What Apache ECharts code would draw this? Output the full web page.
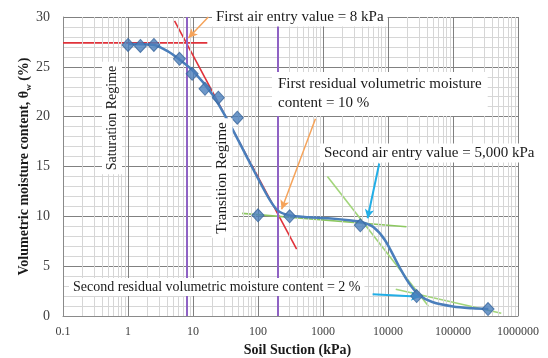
<!DOCTYPE html>
<html><head><meta charset="utf-8">
<script src="https://cdn.jsdelivr.net/npm/echarts@6/dist/echarts.min.js"></script>
<style>html,body{margin:0;padding:0;background:#fff}#c{width:548px;height:358px}</style>
</head><body><div id="c"></div>
<script>
// Measured data points
const ptX = [1, 1.55, 2.5, 6.2, 9.7, 15.3, 24.5, 48, 100, 307, 3750, 27600, 346000];
const ptY = [27.2, 27.1, 27.2, 25.8, 24.3, 22.8, 21.9, 19.9, 10.1, 10.0, 9.1, 2.0, 0.7];
// Fitted curve
const curveX = [1, 2.5, 4, 6, 10, 20, 35, 60, 100, 150, 200, 300, 600, 1200, 2500, 4000, 6000, 9000, 15000, 21000, 30000, 48000, 100000, 200000, 350000];
const curveY = [27.3, 27.2, 26.6, 25.8, 24.6, 22.2, 19.5, 16.6, 13.8, 11.7, 10.6, 10.1, 9.9, 9.8, 9.6, 9.4, 8.9, 7.6, 4.9, 3.3, 2.1, 1.4, 0.95, 0.77, 0.7];
// Tangent lines
const redHX = [0.1, 16.6], redHY = [27.4, 27.4];
const redTX = [5.2, 393], redTY = [29.6, 6.7];
const grnFlatX = [57, 19200], grnFlatY = [10.3, 8.96];
const grnSteepX = [1170, 41700], grnSteepY = [14.0, 1.0];
const grnLowX = [13150, 553000], grnLowY = [2.68, 0.27];
// Vertical reference lines
const purpleX = [8, 200];
// Arrows [x1,y1,x2,y2]
const orangeArrows = [[17.2, 30.0, 8.5, 27.9], [766, 19.8, 231, 10.7]];
const blueArrows = [[7330, 15.3, 4850, 9.8], [5800, 2.18, 31100, 1.94]];
// Axis ticks
const xTickLabels = ['0.1', '1', '10', '100', '1000', '10000', '100000', '1000000'];
const yTicks = [0, 5, 10, 15, 20, 25, 30];
const decades = [0.1, 1, 10, 100, 1000, 10000, 100000];

const serif = 'Liberation Serif';
const minorX = [];
decades.forEach(d => { for (let k = 2; k <= 9; k++) minorX.push(+(k * d).toPrecision(3)); });

const zip = (a, b) => a.map((v, i) => [v, b[i]]);
const chart = echarts.init(document.getElementById('c'));

const lineS = (xs, ys, color, w, z) => ({
  type: 'line', data: zip(xs, ys), symbol: 'none', silent: true, z: z,
  lineStyle: { color: color, width: w }, animation: false
});
const txt = (opts, text, size, extra) => Object.assign({ type: 'text', z: 50, zlevel: 0,
  style: Object.assign({ text: text, font: size + 'px ' + serif, fill: '#1a1a1a', backgroundColor: '#ffffff',
    padding: [2, 4], align: 'left', verticalAlign: 'middle' }, extra || {}) }, opts);

chart.setOption({
  animation: false,
  grid: { left: 63, right: 30, top: 17, bottom: 42, outerBoundsMode: 'none', containLabel: false },
  xAxis: {
    type: 'log', logBase: 10, min: 0.1, max: 1000000,
    name: 'Soil Suction (kPa)', nameLocation: 'middle', nameGap: 27,
    nameTextStyle: { fontFamily: serif, fontWeight: 'bold', fontSize: 14, color: '#1a1a1a', padding: [0, 0, 0, 14] },
    axisLine: { show: true, lineStyle: { color: '#8a8a8a' } },
    axisTick: { show: false },
    axisLabel: { fontFamily: serif, fontSize: 12, color: '#404040', margin: 10,
      formatter: (v, i) => xTickLabels[i] },
    splitLine: { show: true, lineStyle: { color: '#808080', width: 1 } }
  },
  yAxis: {
    type: 'value', min: yTicks[0], max: yTicks[yTicks.length - 1], interval: 5,
    name: '{a|Volumetric moisture content, θ}{s|w}{a| (%)}', nameLocation: 'middle', nameGap: 30,
    nameMoveOverlap: false,
    nameTextStyle: { rich: {
      a: { fontFamily: serif, fontWeight: 'bold', fontSize: 14, color: '#1a1a1a' },
      s: { fontFamily: serif, fontWeight: 'bold', fontSize: 9, color: '#1a1a1a', verticalAlign: 'bottom', padding: [8, 0, 0, 0] }
    } },
    axisLine: { show: true, lineStyle: { color: '#8a8a8a' } },
    axisTick: { show: false },
    axisLabel: { fontFamily: serif, fontSize: 14, color: '#404040', margin: 13 },
    splitLine: { show: true, lineStyle: { color: '#808080' } },
    minorTick: { show: false, splitNumber: 5 },
    minorSplitLine: { show: true, lineStyle: { color: '#d6d6d6' } }
  },
  graphic: [
    txt({ x: 212, y: 17 }, 'First air entry value = 8 kPa', 15),
    txt({ x: 272, y: 94 }, 'First residual volumetric moisture\ncontent = 10 %', 15, { padding: [3, 6], lineHeight: 19 }),
    txt({ x: 320, y: 153 }, 'Second air entry value = 5,000 kPa', 15),
    txt({ x: 69, y: 287 }, 'Second residual volumetric moisture content = 2 %', 14),
    txt({ x: 112, y: 118, rotation: Math.PI / 2 }, 'Saturation Regime', 14, { padding: [3, 4], align: 'center' }),
    txt({ x: 222, y: 178, rotation: Math.PI / 2 }, 'Transition Regime', 15, { padding: [3, 4], align: 'center' })
  ],
  series: [
    { type: 'line', data: [], silent: true, z: 1,
      markLine: { silent: true, symbol: 'none', label: { show: false }, animation: false,
        lineStyle: { color: '#d6d6d6', type: 'solid', width: 1 },
        data: minorX.map(v => ({ xAxis: v })) } },
    { type: 'line', data: [], silent: true, z: 2,
      markLine: { silent: true, symbol: 'none', label: { show: false }, animation: false,
        lineStyle: { color: '#8f62c4', type: 'solid', width: 2 },
        data: purpleX.map(v => ({ xAxis: v })) } },
    lineS(redHX, redHY, '#e0323a', 1.6, 4),
    lineS(redTX, redTY, '#e0323a', 1.6, 4),
    lineS(grnFlatX, grnFlatY, '#8cc860', 1.6, 4),
    lineS(grnSteepX, grnSteepY, '#a2d57a', 1.6, 4),
    lineS(grnLowX, grnLowY, '#a2d57a', 1.6, 4),
    { type: 'line', data: zip(curveX, curveY), symbol: 'none', smooth: 0.3, z: 5,
      lineStyle: { color: '#4a7ebb', width: 2.5 } },
    { type: 'scatter', data: zip(ptX, ptY), symbol: 'diamond', symbolSize: [12, 13], z: 6,
      itemStyle: { color: '#4a7ebb', borderColor: '#3a679c', borderWidth: 1 } },
    { type: 'line', data: [], silent: true, z: 7,
      markLine: { silent: true, symbol: ['none', 'arrow'], symbolSize: [7, 9], label: { show: false }, animation: false,
        lineStyle: { color: '#f5a35a', type: 'solid', width: 1.5 },
        data: orangeArrows.map(a => [{ coord: [a[0], a[1]] }, { coord: [a[2], a[3]] }]) } },
    { type: 'line', data: [], silent: true, z: 7,
      markLine: { silent: true, symbol: ['none', 'arrow'], symbolSize: [7, 9], label: { show: false }, animation: false,
        lineStyle: { color: '#22aee6', type: 'solid', width: 2 },
        data: blueArrows.map(a => [{ coord: [a[0], a[1]] }, { coord: [a[2], a[3]] }]) } }
  ]
});
</script></body></html>
